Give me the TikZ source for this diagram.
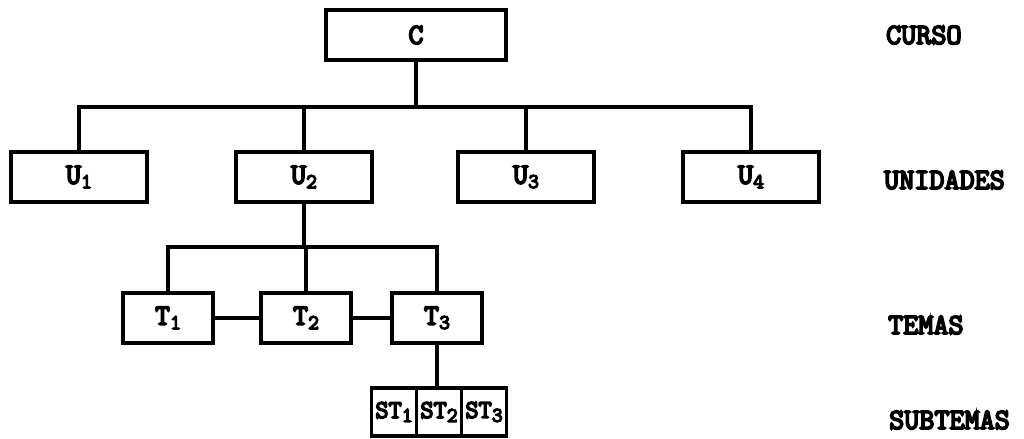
\documentclass[tikz,border=0pt]{standalone}
\usepackage{fontspec}
\setmonofont{Latin Modern Mono}[AutoFakeBold=6]
\usetikzlibrary{positioning}
\newcommand{\ix}[1]{\raisebox{-0.35ex}{\fontsize{18}{18}\selectfont #1}}

\begin{document}
\begin{tikzpicture}[
  x=0.03cm, y=-0.03cm,
  font=\fontsize{25}{26}\selectfont\ttfamily\bfseries,
  box/.style={draw, line width=3pt, inner sep=0pt, minimum height=1.5cm},
  ubox/.style={box, minimum width=4.08cm},
  tbox/.style={box, minimum width=2.7cm},
  stbox/.style={box, minimum width=1.35cm, minimum height=1.44cm, font=\fontsize{22}{22}\selectfont\ttfamily\bfseries},
  link/.style={line width=3pt},
  level/.style={anchor=west}
]
\useasboundingbox (0,0) rectangle (1024,438);

% course
\node[box, minimum width=5.4cm] (curso) at (416,35) {C};

% units
\node[ubox] (u1) at (79,177) {U\ix{1}};
\node[ubox] (u2) at (304,177) {U\ix{2}};
\node[ubox] (u3) at (526,177) {U\ix{3}};
\node[ubox] (u4) at (751,177) {U\ix{4}};

% themes
\node[tbox] (t1) at (168,318) {T\ix{1}};
\node[tbox] (t2) at (306,318) {T\ix{2}};
\node[tbox] (t3) at (437,318) {T\ix{3}};

% subthemes
\node[stbox] (st2) at (439,412) {ST\ix{2}};
\node[stbox, left=-3pt of st2] (st1) {ST\ix{1}};
\node[stbox, right=-3pt of st2] (st3) {ST\ix{3}};

\coordinate (ubus) at (416,107);
\coordinate (tbus) at (306,247);

\draw[link] (curso.south) -- (curso.south |- ubus);
\draw[link] (u1.north) -- (u1.north |- ubus) -- (u4.north |- ubus) -- (u4.north);
\draw[link] (u2.north) -- (u2.north |- ubus);
\draw[link] (u3.north) -- (u3.north |- ubus);

\draw[link] (u2.south) -- (u2.south |- tbus);
\draw[link] (t1.north) -- (t1.north |- tbus) -- (t3.north |- tbus) -- (t3.north);
\draw[link] (t2.north) -- (t2.north |- tbus);
\draw[link] (t1) -- (t2);
\draw[link] (t2) -- (t3);

\draw[link] (t3.south) -- (t3.south |- st2.north);

% levels
\node[level] (lcurso) at (882,35) {CURSO};
\node[level] (lunid) at (880,180) {UNIDADES};
\node[level] (ltemas) at (884,325) {TEMAS};
\node[level] (lsub) at (885,420) {SUBTEMAS};
\end{tikzpicture}
\end{document}
